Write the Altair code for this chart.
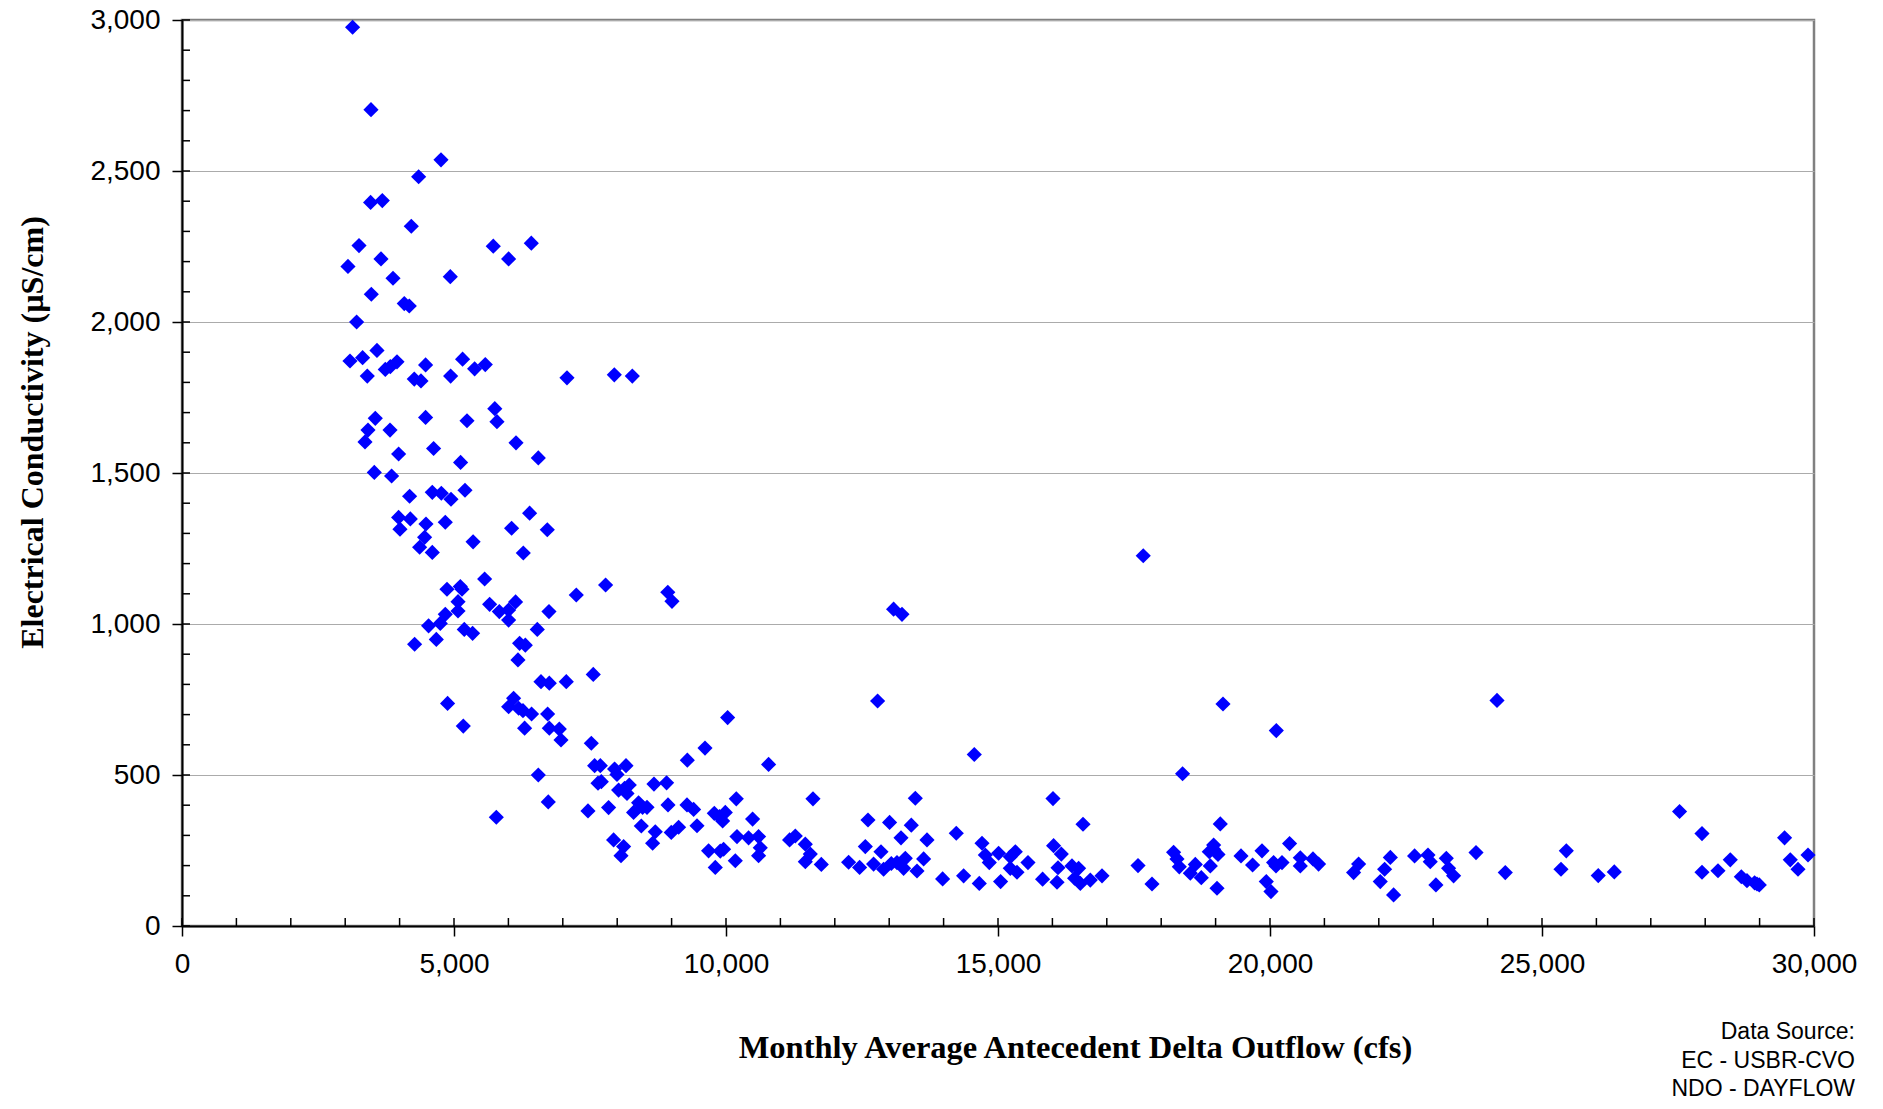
import altair as alt
import pandas as pd

# Monthly average antecedent Delta outflow (cfs) and electrical conductivity (uS/cm)
flow = [
    3136, 3474, 4761, 4350, 3467, 3682, 4215, 3254, 5722, 6421, 6004, 3051, 3658, 3879, 4932,
    3480, 4086, 4178, 3210,
    3584, 3088, 3320, 3406, 3737, 3829, 3952, 4478, 4270, 4393, 4938, 5158, 5379, 5575, 7077,
    3553, 3419, 3364, 3824, 4478, 5239, 5750, 5790, 3982, 4625, 6140, 6550, 5121, 3535, 3853,
    4184, 4601, 4767, 4945, 5202, 3982, 4197, 4007, 4485, 4840, 4460, 4368, 4601, 5351, 6059,
    6390, 6715, 6274, 5563, 4871, 5116, 5147, 5074, 5655, 6132, 7248, 6746, 5074, 4840, 5833,
    6004,
    4748, 4533, 6004, 4276, 4675, 5189, 5342, 6531, 6206, 6311, 6176, 6599, 6752, 7064, 4882,
    5171, 6096, 6004, 6188, 6268, 6426, 6721, 6298, 6752, 6936, 6967, 6550, 6733, 5778,
    7947, 8278, 7787, 8930, 9007,
    7560, 10030, 7524, 9289, 9614, 10783, 7585, 7690, 7952, 7996, 8162, 7647, 7708, 8026, 8180,
    8222, 8136, 8676, 8908, 7463, 7842, 8301, 8393, 8467, 8548, 8934, 9283, 9405, 8443, 8700,
    8651, 8994, 9129, 9467, 9785, 9882, 9987, 9938, 10189, 10489, 10202, 10415, 10599, 10630,
    10599, 7934, 8118, 8070, 9680, 9895, 9956, 9803, 10171, 11169, 11274, 11458, 11550, 11458,
    11752, 11599,
    13081, 13235, 12787, 14564, 13480, 16011, 12610, 13007, 13406, 16563, 13217, 13695, 14233,
    12561, 12849, 14706, 14767, 14840, 15011, 15318, 15226, 15226, 15349, 15551, 16022, 16164,
    16103, 16085, 16360, 16482, 16408, 16513, 16697, 16912, 12254, 12456, 12713, 12897, 13039,
    13143, 13296, 13265, 13633, 13511, 13982, 14368, 14656, 15048, 15820,
    17670, 19136, 20116, 18393, 19086, 17574, 17831, 18228, 18290, 18333, 18627, 18535, 18737,
    18903, 18964, 18964, 18884, 19044, 19026, 19467, 19680, 19853, 19932, 20018, 20066, 20110,
    20221, 20360, 20557, 20557, 20790, 20893, 21537, 21629, 22027, 22107, 22212, 22272, 22658,
    22904, 22946,
    24173, 23050, 23241, 23283, 23375, 23787, 24325, 25349, 25447, 26034, 26329, 27529, 27941,
    27941, 28235, 28461, 28664, 28768, 28908, 28952, 28994, 29459, 29564, 29706, 29890,
]
ec = [
    2976, 2703, 2537, 2481, 2396, 2402, 2317, 2253, 2251, 2261, 2209, 2184, 2209, 2145, 2150,
    2092, 2061, 2053, 2000,
    1906, 1871, 1882, 1821, 1843, 1852, 1868, 1858, 1811, 1805, 1821, 1877, 1845, 1859, 1815,
    1681, 1642, 1603, 1642, 1684, 1673, 1713, 1670, 1563, 1581, 1600, 1550, 1535, 1502, 1490,
    1423, 1436, 1433, 1413, 1443, 1353, 1348, 1314, 1331, 1337, 1287, 1254, 1237, 1272, 1317,
    1367, 1312, 1235, 1149, 1115, 1124, 1115, 1074, 1065, 1073, 1096, 1041, 1043, 1032, 1041,
    1046,
    1002, 994, 1013, 933, 949, 982, 969, 982, 936, 930, 881, 809, 804, 809, 737,
    662, 754, 726, 721, 713, 702, 702, 655, 655, 652, 616, 500, 411, 360,
    1825, 1821, 1129, 1105, 1075,
    833, 690, 605, 549, 589, 535, 531, 531, 520, 502, 531, 473, 478, 450, 439,
    467, 456, 470, 474, 381, 392, 376, 408, 393, 393, 401, 401, 386, 331, 312,
    274, 310, 327, 332, 373, 362, 376, 348, 421, 354, 296, 292, 296, 259,
    233, 285, 263, 233, 249, 248, 254, 194, 216, 285, 298, 271, 238, 213,
    204, 421,
    1049, 1032, 745, 568, 423, 422, 351, 343, 334, 337, 292, 285, 307,
    263, 246, 274, 235, 210, 241, 246, 229, 191, 178, 210, 266, 238,
    193, 145, 199, 191, 158, 141, 152, 166, 211, 194, 205, 188, 207,
    210, 224, 191, 222, 182, 156, 166, 141, 147, 155,
    1226, 735, 647, 504, 338, 200, 139, 244, 222, 196, 204, 175, 160,
    199, 268, 254, 246, 237, 125, 232, 202, 249, 147, 114, 210, 199,
    210, 273, 226, 199, 222, 205, 177, 205, 147, 188, 227, 103, 232,
    235, 213,
    747, 136, 224, 191, 166, 243, 177, 188, 249, 167, 179, 379, 306,
    178, 183, 219, 163, 150, 143, 139, 136, 292, 219, 188, 235,
]

x_major = [0, 5000, 10000, 15000, 20000, 25000, 30000]
y_major = [0, 500, 1000, 1500, 2000, 2500, 3000]
x_ticks = list(range(0, 30001, 1000))
y_ticks = list(range(0, 3001, 100))
source_text = "Data Source:\nEC - USBR-CVO\nNDO - DAYFLOW"

W, H = 1632, 906
LABEL_FONT = "Liberation Sans"
TITLE_FONT = "Liberation Serif"

df = pd.DataFrame({"flow": flow, "ec": ec})
xscale = alt.Scale(domain=[0, 30000], nice=False, zero=False)
yscale = alt.Scale(domain=[0, 3000], nice=False, zero=False)

points = alt.Chart(df).mark_point(
    shape="diamond", filled=True, color="#0000FF", opacity=1, size=230, strokeWidth=0
).encode(
    x=alt.X(
        "flow:Q", scale=xscale,
        axis=alt.Axis(
            values=x_major, format=",d", grid=False,
            title="Monthly Average Antecedent Delta Outflow (cfs)",
            titleFont=TITLE_FONT, titleFontSize=32.5, titleFontWeight="bold", titleColor="#000",
            titleX=893, titleY=121, titleAlign="center", titleBaseline="middle",
            labelFont=LABEL_FONT, labelFontSize=28, labelColor="#000", labelPadding=14,
            tickSize=10, tickColor="#000", tickWidth=1.5,
            domainColor="#000", domainWidth=2, labelFlush=False,
        ),
    ),
    y=alt.Y(
        "ec:Q", scale=yscale,
        axis=alt.Axis(
            values=y_major, format=",d", grid=True, gridColor="#ababab", gridWidth=1.2,
            title="Electrical Conductivity (µS/cm)",
            titleFont=TITLE_FONT, titleFontSize=32, titleFontWeight="bold", titleColor="#000",
            titleX=-150, titleY=412, titleAngle=-90, titleAlign="center", titleBaseline="middle",
            labelFont=LABEL_FONT, labelFontSize=28, labelColor="#000", labelPadding=12,
            tickSize=10, tickColor="#000", tickWidth=1.5,
            domainColor="#000", domainWidth=2, labelFlush=False,
        ),
    ),
)

# Inward tick marks along both axes
xt = alt.Chart(pd.DataFrame({"v": x_ticks})).mark_rule(color="#000", strokeWidth=1.5).encode(
    x=alt.X("v:Q", scale=xscale),
    y=alt.value(H),
    y2=alt.value(H - 8),
)
yt = alt.Chart(pd.DataFrame({"v": y_ticks})).mark_rule(color="#000", strokeWidth=1.5).encode(
    y=alt.Y("v:Q", scale=yscale),
    x=alt.value(0),
    x2=alt.value(8),
)

source = alt.Chart(pd.DataFrame({"t": [source_text]})).mark_text(
    align="right", baseline="middle", font=LABEL_FONT, fontSize=23, color="#000",
    lineBreak="\n", lineHeight=28.5,
).encode(
    text="t:N",
    x=alt.value(1673),
    y=alt.value(1012),
)

chart = alt.layer(points, xt, yt, source).properties(
    width=W,
    height=H,
    padding={"left": 182, "top": 20, "right": 69, "bottom": 183},
    autosize=alt.AutoSizeParams(type="none"),
    background="white",
).configure_view(
    stroke="#808080", strokeWidth=2.5,
)

chart.save("out.html", embed_options={"renderer": "svg", "actions": False})
